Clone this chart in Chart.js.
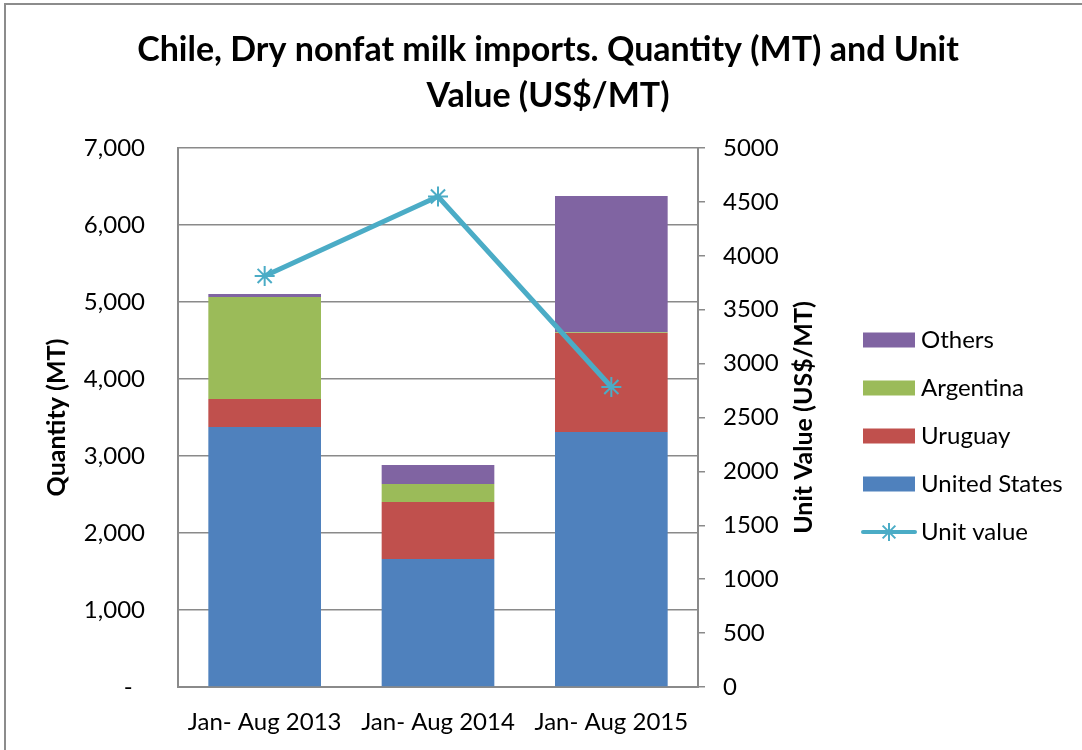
<!DOCTYPE html>
<html>
<head>
<meta charset="utf-8">
<title>Chile, Dry nonfat milk imports</title>
<script src="https://cdn.jsdelivr.net/npm/chart.js@4.4.1/dist/chart.umd.min.js"></script>
<style>
  html, body { margin: 0; padding: 0; background: #fff; }
  #wrap { width: 1082px; height: 750px; position: relative; }
</style>
</head>
<body>
<div id="wrap"><canvas id="chart" width="1082" height="750"></canvas></div>
<script>
// data
const categories = ['Jan- Aug 2013', 'Jan- Aug 2014', 'Jan- Aug 2015'];
const unitedStates = [3377, 1662, 3312];
const uruguay = [363, 741, 1285];
const argentina = [1325, 233, 10];
const others = [39, 247, 1770];
const unitValue = [3813, 4550, 2783];
const quantityTicks = [0, 1000, 2000, 3000, 4000, 5000, 6000, 7000];
const unitTicks = [0, 500, 1000, 1500, 2000, 2500, 3000, 3500, 4000, 4500, 5000];

const FONT = 'Lato, "Noto Sans", sans-serif';
const GRID = '#8a8a8a';
const LINE_COLOR = '#4BACC6';

// legend + right axis title + outer frame
const extras = {
  id: 'extras',
  afterDraw(chart) {
    const ctx = chart.ctx;
    ctx.save();

    // outer frame of the chart object
    ctx.strokeStyle = '#8c8c8c';
    ctx.lineWidth = 2;
    ctx.strokeRect(5, 4, 1090, 760);

    // right axis title, reading bottom to top
    const y1 = chart.scales.y1;
    ctx.translate(804, (y1.top + y1.bottom) / 2);
    ctx.rotate(-Math.PI / 2);
    ctx.font = 'bold 25px ' + FONT;
    ctx.fillStyle = '#000';
    ctx.textAlign = 'center';
    ctx.textBaseline = 'middle';
    ctx.fillText('Unit Value (US$/MT)', 0, 0);
    ctx.restore();

    // legend: Others, Argentina, Uruguay, United States, Unit value
    ctx.save();
    const order = [3, 2, 1, 0, 4];
    const x0 = 863, y0 = 340, step = 48;
    ctx.font = '24px ' + FONT;
    ctx.textBaseline = 'middle';
    ctx.textAlign = 'left';
    order.forEach((idx, i) => {
      const ds = chart.data.datasets[idx];
      const y = y0 + i * step;
      if (ds.type === 'line') {
        ctx.strokeStyle = ds.borderColor;
        ctx.lineWidth = 4;
        ctx.lineCap = 'round';
        ctx.beginPath();
        ctx.moveTo(x0, y);
        ctx.lineTo(x0 + 52, y);
        ctx.stroke();
        ctx.lineWidth = 2;
        ctx.lineCap = 'butt';
        Chart.helpers.drawPoint(ctx, {pointStyle: 'star', radius: 9, borderWidth: 2}, x0 + 26, y);
      } else {
        ctx.fillStyle = ds.backgroundColor;
        ctx.fillRect(x0, y - 7.5, 52, 15);
      }
      ctx.fillStyle = '#000';
      ctx.fillText(ds.label, x0 + 58, y);
    });
    ctx.restore();
  }
};

const barCommon = {
  type: 'bar',
  yAxisID: 'y',
  stack: 'qty',
  barPercentage: 0.65,
  categoryPercentage: 1,
  borderWidth: 0,
  order: 1
};

new Chart(document.getElementById('chart'), {
  data: {
    labels: categories,
    datasets: [
      { ...barCommon, label: 'United States', data: unitedStates, backgroundColor: '#4F81BD' },
      { ...barCommon, label: 'Uruguay', data: uruguay, backgroundColor: '#C0504D' },
      { ...barCommon, label: 'Argentina', data: argentina, backgroundColor: '#9BBB59' },
      { ...barCommon, label: 'Others', data: others, backgroundColor: '#8064A2' },
      {
        type: 'line',
        label: 'Unit value',
        data: unitValue,
        yAxisID: 'y1',
        borderColor: LINE_COLOR,
        backgroundColor: LINE_COLOR,
        borderWidth: 5,
        tension: 0,
        pointStyle: 'star',
        pointRadius: 10,
        pointBorderWidth: 2,
        pointBorderColor: LINE_COLOR,
        order: 0
      }
    ]
  },
  options: {
    responsive: false,
    animation: false,
    layout: { padding: { left: 14, right: 0, top: 0, bottom: 0 } },
    plugins: {
      legend: { display: false },
      tooltip: { enabled: false },
      title: {
        display: true,
        text: ['Chile, Dry nonfat milk imports. Quantity (MT) and Unit', 'Value (US$/MT)'],
        color: '#000',
        font: { family: FONT, size: 34, weight: 'bold', lineHeight: '46px' },
        padding: { top: 27, bottom: 29 }
      }
    },
    scales: {
      x: {
        stacked: true,
        grid: { display: false, drawTicks: false },
        border: { display: true, color: GRID, width: 2 },
        ticks: { color: '#000', font: { family: FONT, size: 24 }, padding: 21 },
        afterFit: s => { s.height = 63; }
      },
      y: {
        stacked: true,
        position: 'left',
        min: 0,
        max: 7000,
        afterBuildTicks: s => { s.ticks = quantityTicks.map(v => ({ value: v })); },
        grid: { color: GRID, lineWidth: 1.5, drawTicks: false },
        border: { display: true, color: GRID, width: 2 },
        ticks: {
          color: '#000',
          font: { family: FONT, size: 24 },
          padding: 33,
          callback: v => v === 0 ? '-  ' : v.toLocaleString('en-US')
        },
        title: {
          display: true,
          text: 'Quantity (MT)',
          color: '#000',
          font: { family: FONT, size: 25, weight: 'bold' },
          padding: { top: 28, bottom: 0 }
        },
        afterFit: s => { s.width = 164; }
      },
      y1: {
        position: 'right',
        min: 0,
        max: 5000,
        afterBuildTicks: s => { s.ticks = unitTicks.map(v => ({ value: v })); },
        grid: { drawOnChartArea: false, color: GRID, lineWidth: 1.5, tickLength: 7 },
        border: { display: true, color: GRID, width: 2 },
        ticks: {
          color: '#000',
          font: { family: FONT, size: 24 },
          padding: 18,
          callback: v => String(v)
        },
        afterFit: s => { s.width = 384; }
      }
    }
  },
  plugins: [extras]
});
</script>
</body>
</html>
